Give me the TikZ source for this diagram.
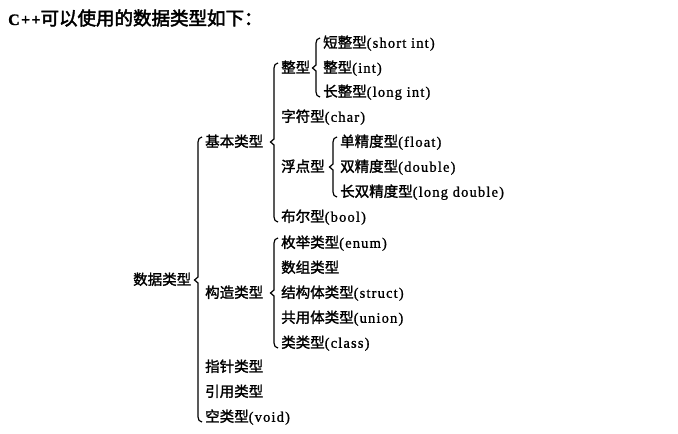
\documentclass[tikz,border=0pt]{standalone}
\usepackage{fontspec}
\setmainfont{Liberation Serif}[LetterSpace=8,FakeBold=1]
\newfontfamily\cjk{Noto Sans CJK SC}[FakeBold=1.6]
\newfontfamily\cjkb{Noto Sans CJK SC}[FakeBold=2.5]
\usetikzlibrary{calc}
\newcommand{\zh}[1]{{\cjk #1}}
% brace from parent (#1) to its first (#2) and last (#3) child
\newcommand{\grp}[3]{%
  \path[draw, line width=1.2pt] let \p1=(#2.west), \p2=(#3.west), \p3=(#1.east) in
    (\x1-3pt,\y1+5pt) to[out=180,in=90] (\x1-7pt,\y1) -- (\x1-7pt,\y3+3pt)
    -- (\x1-10.5pt,\y3) -- (\x1-7pt,\y3-3pt) -- (\x1-7pt,\y2)
    to[out=-90,in=180] (\x1-3pt,\y2-5pt);}

\begin{document}
\begin{tikzpicture}[x=1pt,y=-1pt]
    \useasboundingbox (0,0) rectangle (678,434);

        % title line
        \node[anchor=west, inner sep=0, font=\fontsize{18.5pt}{21pt}\selectfont]
            (title) at (8,18) {{\fontsize{16pt}{18pt}\selectfont\bfseries C++}{\cjkb 可以使用的数据类型如下：}};

        % Add or remove nodes here, use the tuple for location
        \begin{scope}[every node/.style={anchor=west, inner sep=0, text height=12pt, text depth=2.5pt,
                      font=\fontsize{14.5pt}{17pt}\selectfont}]
        \node (root) at (133,280) {\zh{数据类型}};

        \node (base) at (205,142) {\zh{基本类型}};
        \node (cons) at (205,293) {\zh{构造类型}};
        \node (ptr)  at (205,367) {\zh{指针类型}};
        \node (refr) at (205,392) {\zh{引用类型}};
        \node (void) at (205,417) {\zh{空类型}(void)};

        \node (int)  at (281,68)  {\zh{整型}};
        \node (chr)  at (281,117) {\zh{字符型}(char)};
        \node (flt)  at (281,167) {\zh{浮点型}};
        \node (bool) at (281,217) {\zh{布尔型}(bool)};

        \node (enum) at (281,243) {\zh{枚举类型}(enum)};
        \node (arr)  at (281,268) {\zh{数组类型}};
        \node (strc) at (281,293) {\zh{结构体类型}(struct)};
        \node (unn)  at (281,318) {\zh{共用体类型}(union)};
        \node (cls)  at (281,343) {\zh{类类型}(class)};

        \node (sint) at (323,43)  {\zh{短整型}(short int)};
        \node (iint) at (323,68)  {\zh{整型}(int)};
        \node (lint) at (323,92)  {\zh{长整型}(long int)};

        \node (sflt) at (340,142) {\zh{单精度型}(float)};
        \node (dflt) at (340,167) {\zh{双精度型}(double)};
        \node (ldbl) at (340,192) {\zh{长双精度型}(long double)};
        \end{scope}

        % braces
        \grp{root}{base}{void}
        \grp{base}{int}{bool}
        \grp{cons}{enum}{cls}
        \grp{int}{sint}{lint}
        \grp{flt}{sflt}{ldbl}

\end{tikzpicture}
\end{document}
